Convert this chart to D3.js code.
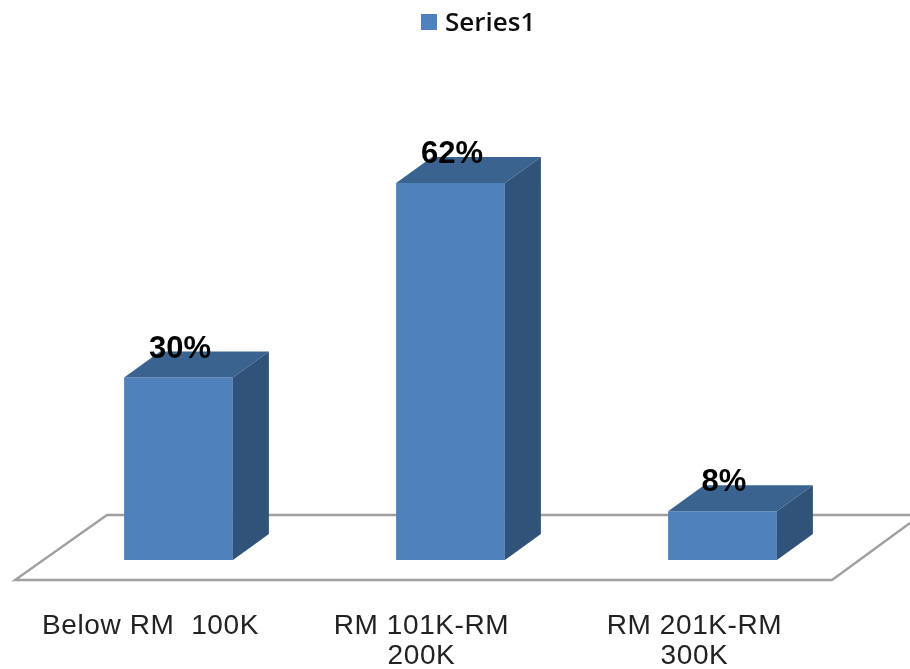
<!DOCTYPE html>
<html><head><meta charset="utf-8">
<script src="https://cdn.jsdelivr.net/npm/d3@7"></script>
<style>html,body{margin:0;padding:0;background:#fff}svg{display:block}</style>
</head><body><svg id="c" width="910" height="669"></svg>
<script>
const categories = ["Below RM 100K", "RM 101K-RM 200K", "RM 201K-RM 300K"];
const categoryLines = [["Below RM  100K"], ["RM 101K-RM", "200K"], ["RM 201K-RM", "300K"]];
const seriesName = "Series1";
const values = [30, 62, 8];
const valueLabels = ["30%", "62%", "8%"];

const svg = d3.select("#c");
const defs = svg.append("defs");
defs.append("filter").attr("id","soft").attr("x","-5%").attr("y","-5%").attr("width","110%").attr("height","110%")
  .append("feGaussianBlur").attr("stdDeviation",0.7);

const x = d3.scaleBand().domain(categories).range([42.5,858.5]).paddingInner(0.6).paddingOuter(0.3);
const y = d3.scaleLinear().domain([0,62]).range([560,183]);
const dx = 36, dy = -26;

// floor
const floor = svg.append("g").attr("filter","url(#soft)").attr("fill","none").attr("stroke","#a0a0a0").attr("stroke-width",2.4);
floor.append("path").attr("d",d3.line()([[910,523],[832,580],[15,580],[107,515],[910,515]]));

// bars
const g = svg.append("g").selectAll("g").data(categories).join("g").attr("filter","url(#soft)");
g.each(function(c,i){
  const s = d3.select(this), l = x(c), r = l + x.bandwidth(), t = y(values[i]), b = y(0);
  s.append("path").attr("fill","#4f81bd").attr("d",d3.line()([[l,t],[r,t],[r,b],[l,b]])+"Z");
  s.append("path").attr("fill","#3b6390").attr("d",d3.line()([[l,t],[l+dx,t+dy],[r+dx,t+dy],[r,t]])+"Z");
  s.append("path").attr("fill","#325279").attr("d",d3.line()([[r,t],[r+dx,t+dy],[r+dx,b+dy],[r,b]])+"Z");
});

// value labels
svg.append("g").attr("filter","url(#soft)").selectAll("text").data(valueLabels).join("text")
  .attr("x",(d,i)=>x(categories[i])+x.bandwidth()/2+1.5)
  .attr("y",(d,i)=>y(values[i])-20)
  .attr("text-anchor","middle").attr("font-family","Liberation Sans").attr("font-weight",700)
  .attr("font-size",31).attr("fill","#000").text(d=>d);

// category labels
const labelShift = [-28, -29, -28];
const labels = svg.append("g").attr("filter","url(#soft)").selectAll("text").data(categoryLines).join("text")
  .attr("text-anchor","middle").attr("font-family","Liberation Sans").attr("font-size",28).attr("letter-spacing",0.6).attr("fill","#222")
  .style("white-space","pre");
labels.each(function(lines,i){
  d3.select(this).selectAll("tspan").data(lines).join("tspan")
    .attr("x",x(categories[i])+x.bandwidth()/2+labelShift[i])
    .attr("y",(d,j)=>634+j*30).text(d=>d);
});

// legend
const lg = svg.append("g").attr("filter","url(#soft)");
lg.append("rect").attr("x",421).attr("y",14).attr("width",16).attr("height",16).attr("fill","#4f81bd");
lg.append("text").attr("x",445).attr("y",31).attr("font-family","Open Sans").attr("font-weight",600).attr("font-size",26).attr("fill","#111").text(seriesName);
</script></body></html>
